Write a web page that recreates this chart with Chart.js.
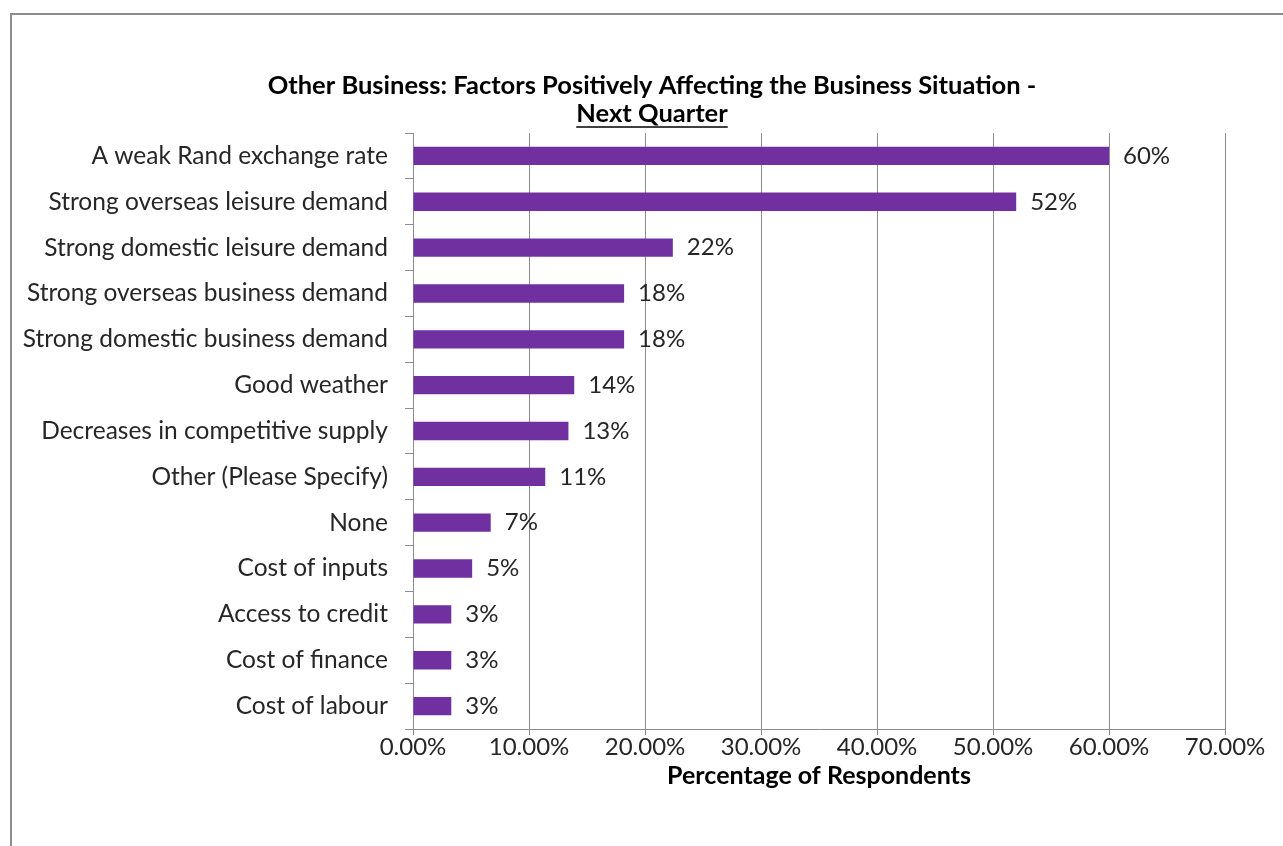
<!DOCTYPE html>
<html>
<head>
<meta charset="utf-8">
<script src="https://cdn.jsdelivr.net/npm/chart.js@4.4.0/dist/chart.umd.min.js"></script>
<style>
html, body { margin: 0; padding: 0; background: #fff; overflow: hidden; }
#frame {
    position: absolute; left: 10px; top: 13px; width: 1400px; height: 900px;
    border-left: 2px solid #8c8c8c; border-top: 2px solid #8c8c8c;
}
#wrap { position: absolute; left: 0; top: 0; width: 1283px; height: 846px; }
</style>
</head>
<body>
<div id="frame"></div>
<div id="wrap"><canvas id="cht" width="1283" height="846"></canvas></div>
<script>
const factors = [
    'A weak Rand exchange rate',
    'Strong overseas leisure demand',
    'Strong domestic leisure demand',
    'Strong overseas business demand',
    'Strong domestic business demand',
    'Good weather',
    'Decreases in competitive supply',
    'Other (Please Specify)',
    'None',
    'Cost of inputs',
    'Access to credit',
    'Cost of finance',
    'Cost of labour'
];
const respondents = [60.0, 52.0, 22.4, 18.2, 18.2, 13.9, 13.4, 11.4, 6.7, 5.1, 3.3, 3.3, 3.3];
const xTickLabels = ['0.00%', '10.00%', '20.00%', '30.00%', '40.00%', '50.00%', '60.00%', '70.00%'];
const titleLines = ['Other Business: Factors Positively Affecting the Business Situation -', 'Next Quarter'];
const xTitle = 'Percentage of Respondents';

const FONT = 'Lato';
const cht = document.getElementById('cht');

// title drawn by hand so the second line can be underlined
const titlePlugin = {
    id: 'titleUnderlined',
    afterDraw(chart) {
        const ctx = chart.ctx;
        ctx.save();
        ctx.font = 'bold 25.5px ' + FONT;
        ctx.fillStyle = '#000';
        ctx.textAlign = 'center';
        ctx.textBaseline = 'middle';
        const cx = 652;
        ctx.fillText(titleLines[0], cx, 86);
        ctx.fillText(titleLines[1], cx, 114);
        const w = ctx.measureText(titleLines[1]).width;
        ctx.strokeStyle = '#000';
        ctx.lineWidth = 1.5;
        ctx.beginPath();
        ctx.moveTo(cx - w / 2, 127);
        ctx.lineTo(cx + w / 2, 127);
        ctx.stroke();
        ctx.restore();
    }
};

const valueLabels = {
    id: 'valueLabels',
    afterDatasetsDraw(chart) {
        const ctx = chart.ctx;
        const meta = chart.getDatasetMeta(0);
        ctx.save();
        ctx.font = '24px ' + FONT;
        ctx.fillStyle = '#262626';
        ctx.textAlign = 'left';
        ctx.textBaseline = 'middle';
        meta.data.forEach((bar, i) => {
            ctx.fillText(Math.round(respondents[i]) + '%', bar.x + 14, bar.y);
        });
        ctx.restore();
    }
};

const chart = new Chart(cht, {
    type: 'bar',
    data: {
        labels: factors,
        datasets: [{
            data: respondents,
            backgroundColor: '#7030A0',
            borderWidth: 0,
            categoryPercentage: 1,
            barPercentage: 0.4
        }]
    },
    options: {
        indexAxis: 'y',
        responsive: false,
        animation: false,
        layout: { padding: { top: 133, right: 58, bottom: 58, left: 0 } },
        plugins: {
            legend: { display: false },
            title: { display: false },
            tooltip: { enabled: false }
        },
        scales: {
            x: {
                min: 0,
                max: 70,
                ticks: {
                    stepSize: 10,
                    padding: 0,
                    color: '#262626',
                    font: { family: FONT, size: 24, lineHeight: 1 },
                    callback: (v, i) => xTickLabels[i]
                },
                grid: { color: '#8c8c8c', lineWidth: 1, tickLength: 6 },
                border: { color: '#8c8c8c' },
                title: {
                    display: true,
                    text: xTitle,
                    color: '#000',
                    padding: { top: 4, bottom: 0 },
                    font: { family: FONT, size: 25, weight: 'bold', lineHeight: 1 }
                }
            },
            y: {
                afterFit(scale) { scale.width = 413; },
                ticks: {
                    padding: 17,
                    color: '#262626',
                    font: { family: FONT, size: 24.5 }
                },
                grid: { drawOnChartArea: false, tickLength: 8, color: '#8c8c8c', offset: true },
                border: { color: '#8c8c8c' }
            }
        }
    },
    plugins: [titlePlugin, valueLabels]
});
</script>
</body>
</html>
